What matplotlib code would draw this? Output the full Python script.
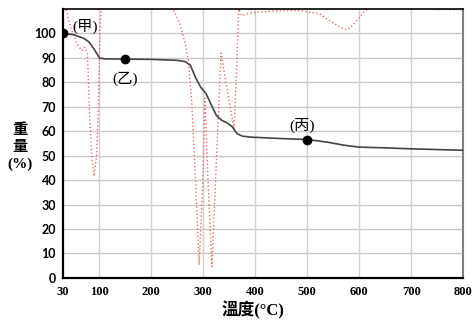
import matplotlib
matplotlib.use("Agg")
import matplotlib.pyplot as plt

# weight-loss curve (TGA)
temp_w = [30, 50, 70, 80, 90, 100, 110, 150, 200, 250, 265, 275, 285, 295, 305,
          315, 325, 335, 345, 355, 365, 375, 390, 450, 500, 540, 570, 600, 650, 700, 800]
weight = [100, 99.5, 98, 96.5, 93.5, 90, 89.6, 89.5, 89.4, 89, 88.5, 87, 82, 78, 75.5,
          71, 66.5, 64.5, 63.5, 62, 59, 58, 57.6, 57, 56.6, 55.5, 54.3, 53.5, 53.2, 52.8, 52.2]

# red dotted curve (derivative signal, clipped at top of axis)
temp_r = [30, 38, 47, 59, 66, 72, 77, 80.6, 85, 89.6, 94.7, 98, 101, 104, 110, 200,
          242, 255, 265, 271, 277.5, 285, 292, 299, 303, 309, 316.5, 323.6, 334, 345, 359, 364, 368,
          374, 390, 422, 453, 485, 524, 543, 563, 575, 588, 601, 611, 625, 700, 750, 800]
signal = [115, 108, 101, 95, 93, 94.4, 91.8, 70, 50, 41.6, 50, 70, 100, 112, 120, 120,
          110, 104, 96, 89, 72.6, 40, 5.3, 40, 73.5, 40, 4.6, 40, 92, 78, 61, 85, 110,
          107.3, 108.3, 109, 109.4, 109.4, 108, 105.3, 102.6, 101.5, 103.3, 106.7, 109.4, 111, 111, 109.8, 109.8]

# labelled points
pt_x = [30, 150, 500]
pt_y = [100, 89.5, 56.6]
pt_labels = ["(甲)", "(乙)", "(丙)"]
lbl_x = [72, 149, 490]
lbl_y = [103, 81.5, 62.5]

x_ticks = [30, 100, 200, 300, 400, 500, 600, 700, 800]
y_ticks = list(range(0, 101, 10))

cjk = ["Liberation Serif", "Noto Sans CJK TC"]

fig = plt.figure(figsize=(4.74, 3.22), dpi=100)
ax = fig.add_axes([0.133, 0.137, 0.844, 0.835])

for v in y_ticks[1:]:
    ax.axhline(v, color="#c8c8c8", lw=1, zorder=0)
for v in x_ticks[1:-1]:
    ax.axvline(v, color="#d0d0d0", lw=1, zorder=0)

ax.plot(temp_r, signal, color="#f06868", lw=1, ls=":", zorder=2)
ax.plot(temp_w, weight, color="#444444", lw=1.2, zorder=3)
ax.plot(pt_x, pt_y, "o", color="black", ms=6, zorder=4)
for x, y, s in zip(lbl_x, lbl_y, pt_labels):
    ax.text(x, y, s, ha="center", va="center", fontsize=11, family=cjk)

ax.set_xlim(30, 800)
ax.set_ylim(0, 110)
ax.set_xticks(x_ticks)
ax.set_yticks(y_ticks)
ax.tick_params(length=0)
ax.tick_params(axis="y", pad=5)
ax.tick_params(axis="x", pad=6)
for t in ax.get_yticklabels():
    t.set_fontfamily("Lato")
    t.set_fontweight("bold")
    t.set_fontsize(9)
for t in ax.get_xticklabels():
    t.set_fontfamily("Liberation Serif")
    t.set_fontweight("bold")
    t.set_fontsize(9)

ax.spines["left"].set_linewidth(1.6)
ax.spines["bottom"].set_linewidth(1.6)
ax.spines["top"].set_linewidth(1.2)
ax.spines["right"].set_color("#808080")
ax.spines["right"].set_linewidth(1.5)

fig.text(20 / 474, 1 - 147 / 322, "重\n量\n(%)", ha="center", va="center",
         fontsize=11, fontweight="bold", family=cjk, linespacing=1.35)
fig.text(253 / 474, 1 - 310 / 322, "溫度(°C)", ha="center", va="center",
         fontsize=12, fontweight="bold", family=cjk)

fig.savefig("out.png", dpi=100)
